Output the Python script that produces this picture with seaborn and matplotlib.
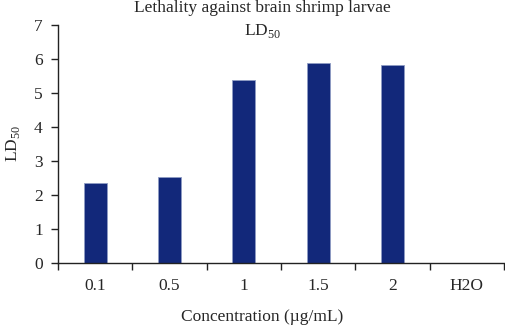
import matplotlib
matplotlib.use("Agg")
import matplotlib.pyplot as plt
import seaborn as sns
import pandas as pd
import numpy as np

# data
concentrations = ["0.1", "0.5", "1", "1.5", "2", "H2O"]
ld50 = [2.35, 2.54, 5.37, 5.88, 5.81, 0.0]

df = pd.DataFrame({"conc": concentrations, "ld50": ld50})

sns.set_style("white")
plt.rcParams["font.family"] = ["Liberation Serif", "DejaVu Serif"]
plt.rcParams["mathtext.fontset"] = "custom"
plt.rcParams["mathtext.rm"] = "Liberation Serif"

fs = 12.5
fig = plt.figure(figsize=(5.05, 3.26), dpi=100)
ax = fig.add_axes([0.115, 0.193, 0.883, 0.731])

sns.barplot(data=df, x="conc", y="ld50", order=concentrations, color="#12287a",
            saturation=1, width=0.31, edgecolor="#8f9cc4", linewidth=0.6, ax=ax)

ax.set_xlim(-0.5, len(concentrations) - 0.5)
ax.set_ylim(0, 7)
ax.set_yticks(range(0, 8))

# category boundaries get the tick marks, labels sit in the middle
ax.set_xticks(np.arange(-0.5, len(concentrations)), minor=True)
ax.tick_params(axis="x", which="major", bottom=True, length=0, pad=11, labelsize=fs)
ax.tick_params(axis="x", which="minor", bottom=True, length=5, width=1, direction="out", color="#222222")
ax.tick_params(axis="y", left=True, length=5, width=1, direction="out", color="#222222", labelsize=fs, pad=6)

for s in ["top", "right"]:
    ax.spines[s].set_visible(False)
for s in ["left", "bottom"]:
    ax.spines[s].set_color("#222222")
    ax.spines[s].set_linewidth(1)

ax.set_xlabel("")
ax.set_ylabel("")
fig.text(0.519, 0.027, "Concentration (µg/mL)", ha="center", va="center", fontsize=fs)
fig.text(0.026, 0.56, r"LD$_{50}$", ha="center", va="center", rotation=90, fontsize=fs)

fig.text(0.519, 0.975, "Lethality against brain shrimp larvae", ha="center", va="center", fontsize=fs)
fig.text(0.519, 0.905, r"LD$_{50}$", ha="center", va="center", fontsize=fs)

fig.savefig("out.png", dpi=100)
